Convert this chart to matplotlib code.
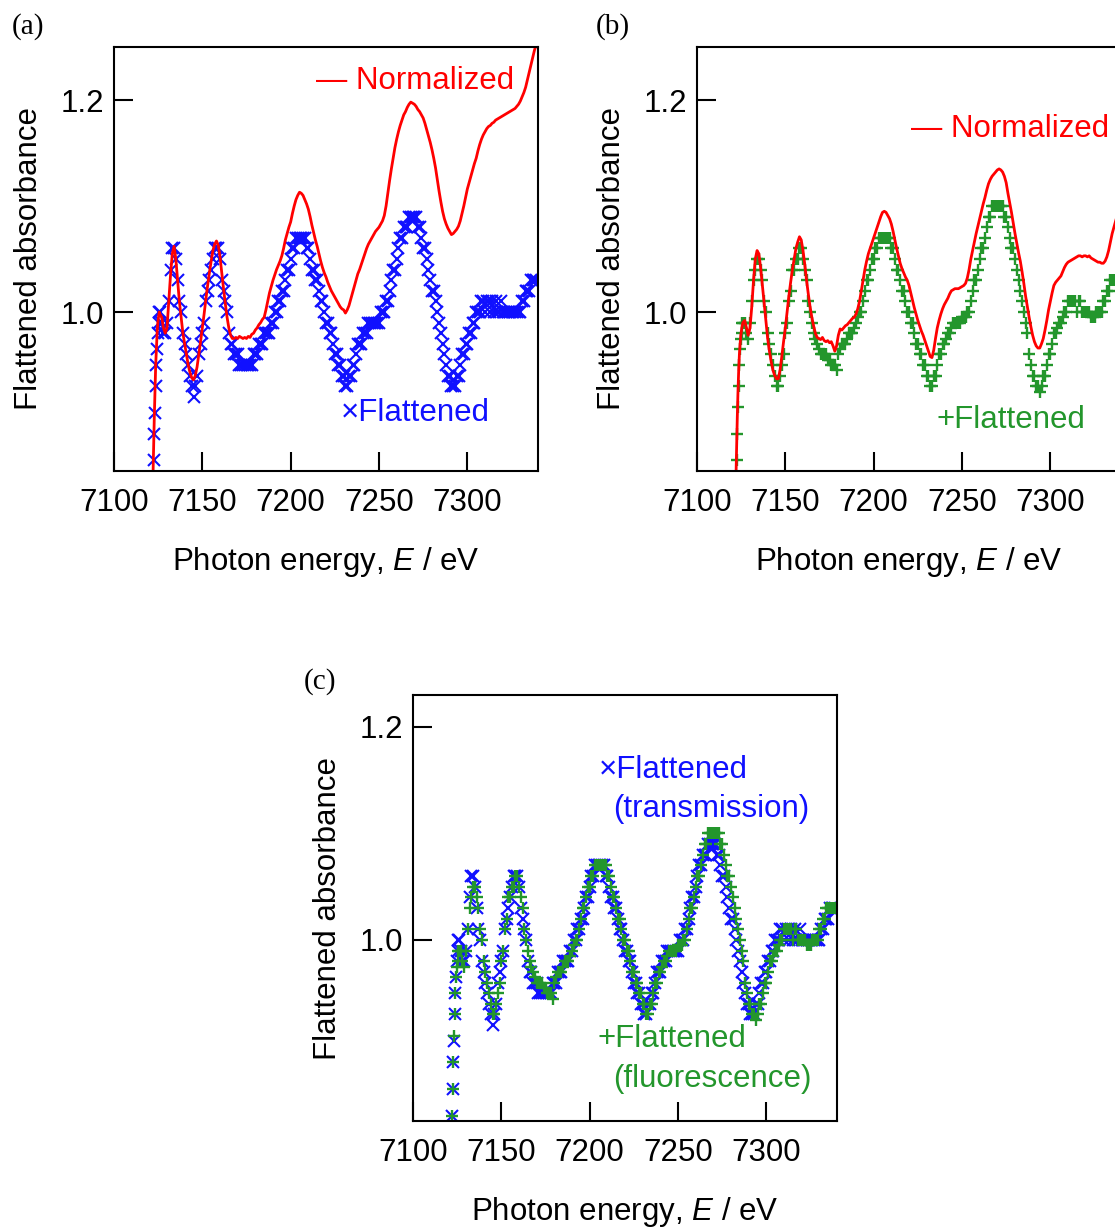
import matplotlib
matplotlib.use("Agg")
import matplotlib.pyplot as plt

plt.rcParams["font.family"] = ["Liberation Sans", "DejaVu Sans"]
plt.rcParams["mathtext.fontset"] = "custom"
plt.rcParams["mathtext.rm"] = "Liberation Sans"
plt.rcParams["mathtext.it"] = "Liberation Sans:italic"

# ---------- data ----------
energy = [7122.0, 7122.4, 7122.8, 7123.2, 7123.6, 7124.0, 7124.4, 7124.8, 7125.2, 7125.6, 7126.0,
          7127, 7128, 7129, 7130, 7131, 7132, 7133, 7134, 7135, 7136,
          7137, 7138, 7139, 7140, 7141, 7142, 7143, 7144, 7145, 7146,
          7147, 7148, 7149, 7150, 7151, 7152, 7153, 7154, 7155, 7156,
          7157, 7158, 7159, 7160, 7161, 7162, 7163, 7164, 7165, 7166,
          7167, 7168, 7169, 7170, 7171, 7172, 7173, 7174, 7175, 7176,
          7177, 7178, 7179, 7180, 7181, 7182, 7183, 7184, 7185, 7186,
          7187, 7188, 7189, 7190, 7191, 7192, 7193, 7194, 7195, 7196,
          7197, 7198, 7199, 7200, 7201, 7202, 7203, 7204, 7205, 7206,
          7207, 7208, 7209, 7210, 7211, 7212, 7213, 7214, 7215, 7216,
          7217, 7218, 7219, 7220, 7221, 7222, 7223, 7224, 7225, 7226,
          7227, 7228, 7229, 7230, 7231, 7232, 7233, 7234, 7235, 7236,
          7237, 7238, 7239, 7240, 7241, 7242, 7243, 7244, 7245, 7246,
          7247, 7248, 7249, 7250, 7251, 7252, 7253, 7254, 7255, 7256,
          7257, 7258, 7259, 7260, 7261, 7262, 7263, 7264, 7265, 7266,
          7267, 7268, 7269, 7270, 7271, 7272, 7273, 7274, 7275, 7276,
          7277, 7278, 7279, 7280, 7281, 7282, 7283, 7284, 7285, 7286,
          7287, 7288, 7289, 7290, 7291, 7292, 7293, 7294, 7295, 7296,
          7297, 7298, 7299, 7300, 7301, 7302, 7303, 7304, 7305, 7306,
          7307, 7308, 7309, 7310, 7311, 7312, 7313, 7314, 7315, 7316,
          7317, 7318, 7319, 7320, 7321, 7322, 7323, 7324, 7325, 7326,
          7327, 7328, 7329, 7330, 7331, 7332, 7333, 7334, 7335, 7336,
          7337, 7338, 7339]

# transmission, flattened (blue x)
trans_flat = [0.835, 0.86, 0.885, 0.905, 0.93, 0.95, 0.965, 0.98, 0.99, 1.00, 1.00,
              0.99, 0.98, 0.98, 0.99, 1.01, 1.04, 1.06, 1.06, 1.05, 1.03,
              1.01, 1.00, 0.98, 0.97, 0.96, 0.95, 0.94, 0.93, 0.92, 0.93,
              0.94, 0.96, 0.97, 0.98, 0.99, 1.01, 1.02, 1.03, 1.04, 1.05,
              1.06, 1.06, 1.06, 1.05, 1.03, 1.02, 1.01, 1.00, 0.98, 0.97,
              0.97, 0.96, 0.96, 0.96, 0.95, 0.95, 0.95, 0.95, 0.95, 0.95,
              0.95, 0.95, 0.96, 0.96, 0.96, 0.97, 0.97, 0.97, 0.98, 0.98,
              0.98, 0.98, 0.99, 0.99, 1.00, 1.00, 1.01, 1.01, 1.02, 1.02,
              1.03, 1.04, 1.04, 1.05, 1.06, 1.06, 1.07, 1.07, 1.07, 1.07,
              1.07, 1.07, 1.06, 1.06, 1.05, 1.04, 1.04, 1.03, 1.03, 1.02,
              1.01, 1.01, 1.00, 0.99, 0.99, 0.98, 0.98, 0.97, 0.96, 0.96,
              0.95, 0.95, 0.94, 0.94, 0.93, 0.93, 0.94, 0.94, 0.95, 0.95,
              0.96, 0.97, 0.97, 0.97, 0.98, 0.98, 0.98, 0.99, 0.99, 0.99,
              0.99, 0.99, 0.99, 0.99, 1.00, 1.00, 1.00, 1.01, 1.01, 1.02,
              1.03, 1.04, 1.04, 1.05, 1.06, 1.07, 1.07, 1.08, 1.08, 1.08,
              1.09, 1.09, 1.09, 1.09, 1.09, 1.08, 1.08, 1.07, 1.06, 1.06,
              1.05, 1.04, 1.03, 1.02, 1.02, 1.01, 1.00, 0.99, 0.98, 0.97,
              0.96, 0.95, 0.94, 0.94, 0.93, 0.93, 0.93, 0.94, 0.94, 0.95,
              0.96, 0.96, 0.97, 0.97, 0.98, 0.98, 0.99, 0.99, 1.00, 1.00,
              1.00, 1.01, 1.01, 1.00, 1.01, 1.01, 1.00, 1.01, 1.00, 1.01,
              1.00, 1.00, 1.01, 1.00, 1.00, 1.00, 1.00, 1.00, 1.00, 1.00,
              1.00, 1.00, 1.00, 1.00, 1.01, 1.01, 1.02, 1.02, 1.02, 1.03,
              1.03, 1.03, 1.03]

# fluorescence, flattened (green +)
fluo_flat = [0.835, 0.86, 0.885, 0.91, 0.93, 0.95, 0.965, 0.975, 0.98, 0.99, 0.99,
             0.99, 0.98, 0.975, 0.99, 1.01, 1.03, 1.04, 1.05, 1.05, 1.04,
             1.03, 1.01, 1.00, 0.98, 0.97, 0.96, 0.95, 0.94, 0.93, 0.93,
             0.94, 0.95, 0.96, 0.98, 0.99, 1.01, 1.02, 1.04, 1.04, 1.05,
             1.05, 1.06, 1.06, 1.05, 1.04, 1.03, 1.01, 1.00, 0.99, 0.98,
             0.975, 0.97, 0.965, 0.96, 0.96, 0.96, 0.96, 0.955, 0.955, 0.95,
             0.95, 0.95, 0.945, 0.96, 0.965, 0.97, 0.97, 0.97, 0.975, 0.98,
             0.98, 0.98, 0.985, 0.99, 0.995, 1.00, 1.00, 1.01, 1.02, 1.03,
             1.03, 1.04, 1.05, 1.05, 1.06, 1.06, 1.07, 1.07, 1.07, 1.07,
             1.07, 1.07, 1.07, 1.06, 1.06, 1.05, 1.04, 1.04, 1.03, 1.02,
             1.02, 1.01, 1.00, 1.00, 0.99, 0.99, 0.98, 0.97, 0.97, 0.96,
             0.96, 0.95, 0.95, 0.94, 0.94, 0.93, 0.93, 0.94, 0.94, 0.95,
             0.96, 0.96, 0.97, 0.97, 0.975, 0.98, 0.98, 0.985, 0.99, 0.99,
             0.99, 0.99, 0.99, 0.995, 0.995, 0.995, 1.00, 1.00, 1.01, 1.02,
             1.03, 1.03, 1.04, 1.05, 1.06, 1.06, 1.07, 1.08, 1.09, 1.09,
             1.10, 1.10, 1.10, 1.10, 1.10, 1.10, 1.10, 1.09, 1.09, 1.08,
             1.07, 1.06, 1.06, 1.05, 1.04, 1.03, 1.02, 1.01, 1.00, 0.99,
             0.98, 0.96, 0.95, 0.94, 0.94, 0.93, 0.93, 0.925, 0.93, 0.94,
             0.94, 0.95, 0.96, 0.96, 0.97, 0.98, 0.98, 0.985, 0.99, 0.99,
             0.995, 1.00, 1.00, 1.01, 1.01, 1.01, 1.01, 1.01, 1.00, 1.01,
             1.01, 1.00, 1.00, 1.00, 1.00, 1.00, 0.995, 0.995, 0.995, 1.00,
             1.00, 1.00, 1.00, 1.01, 1.01, 1.02, 1.02, 1.03, 1.03, 1.03,
             1.03, 1.03, 1.03]

# transmission, normalized (red line in a)
trans_norm = [0.84, 0.87, 0.90, 0.925, 0.95, 0.965, 0.98, 0.99, 0.995, 1.00, 0.998,
              0.995, 0.985, 0.98, 0.985, 1.01, 1.035, 1.055, 1.062, 1.05, 1.03,
              1.01, 0.995, 0.98, 0.97, 0.96, 0.95, 0.943, 0.938, 0.936, 0.94,
              0.948, 0.96, 0.972, 0.985, 0.998, 1.012, 1.025, 1.037, 1.048, 1.058,
              1.064, 1.067, 1.063, 1.052, 1.037, 1.022, 1.008, 0.995, 0.985, 0.978,
              0.975, 0.975, 0.976, 0.975, 0.977, 0.976, 0.975, 0.976, 0.975, 0.977,
              0.976, 0.979, 0.98, 0.983, 0.985, 0.988, 0.99, 0.993, 0.995, 1.002,
              1.01, 1.018, 1.024, 1.03, 1.035, 1.04, 1.044, 1.048, 1.053, 1.06,
              1.068, 1.074, 1.08, 1.085, 1.093, 1.1, 1.106, 1.11, 1.113, 1.112,
              1.11, 1.106, 1.102, 1.097, 1.09, 1.082, 1.075, 1.068, 1.062, 1.055,
              1.048, 1.042, 1.037, 1.033, 1.028, 1.024, 1.02, 1.017, 1.014, 1.011,
              1.008, 1.005, 1.003, 1.002, 0.999, 1.002, 1.006, 1.012, 1.018, 1.024,
              1.03, 1.036, 1.04, 1.045, 1.05, 1.055, 1.06, 1.064, 1.067, 1.07,
              1.073, 1.076, 1.078, 1.08, 1.083, 1.086, 1.091, 1.1, 1.112, 1.124,
              1.135, 1.145, 1.155, 1.163, 1.17, 1.176, 1.181, 1.186, 1.189, 1.193,
              1.196, 1.198, 1.197, 1.196, 1.194, 1.191, 1.189, 1.186, 1.183, 1.178,
              1.172, 1.166, 1.16, 1.153, 1.145, 1.136, 1.125, 1.114, 1.104, 1.095,
              1.088, 1.083, 1.079, 1.076, 1.073, 1.074, 1.076, 1.078, 1.081, 1.086,
              1.093, 1.1, 1.108, 1.116, 1.122, 1.128, 1.134, 1.14, 1.145, 1.152,
              1.158, 1.163, 1.167, 1.17, 1.173, 1.175, 1.176, 1.178, 1.179, 1.181,
              1.182, 1.183, 1.184, 1.185, 1.186, 1.187, 1.188, 1.189, 1.19, 1.191,
              1.192, 1.194, 1.196, 1.199, 1.203, 1.207, 1.212, 1.219, 1.226, 1.233,
              1.24, 1.247, 1.252]

# fluorescence, normalized (red line in b)
fluo_norm = [0.84, 0.87, 0.90, 0.925, 0.945, 0.96, 0.97, 0.978, 0.983, 0.987, 0.99,
             0.992, 0.985, 0.978, 0.985, 1.005, 1.03, 1.05, 1.058, 1.055, 1.042,
             1.025, 1.008, 0.99, 0.975, 0.963, 0.953, 0.945, 0.94, 0.937, 0.937,
             0.945, 0.958, 0.972, 0.985, 1.0, 1.015, 1.028, 1.04, 1.05, 1.06,
             1.066, 1.071, 1.068, 1.058, 1.045, 1.03, 1.017, 1.005, 0.995, 0.987,
             0.98, 0.976, 0.975, 0.974, 0.976, 0.973, 0.972, 0.973, 0.971, 0.972,
             0.968, 0.963, 0.968, 0.978, 0.984, 0.983, 0.985, 0.987, 0.988, 0.99,
             0.992, 0.994, 0.995, 0.998, 1.003, 1.01, 1.02, 1.03, 1.04, 1.048,
             1.055, 1.06, 1.065, 1.07, 1.075, 1.08, 1.085, 1.09, 1.094, 1.095,
             1.094, 1.091, 1.088, 1.083, 1.076, 1.068, 1.06, 1.053, 1.046, 1.041,
             1.037, 1.033, 1.03, 1.025, 1.018, 1.011, 1.004, 0.998, 0.992, 0.987,
             0.982, 0.978, 0.973, 0.968, 0.963, 0.958, 0.957, 0.964, 0.975, 0.985,
             0.992, 0.998, 1.003, 1.007, 1.01, 1.013, 1.017, 1.02, 1.021, 1.022,
             1.022, 1.022, 1.023, 1.024, 1.025, 1.027, 1.032, 1.04, 1.05, 1.058,
             1.066, 1.074, 1.081, 1.088, 1.095, 1.102, 1.108, 1.115, 1.121, 1.125,
             1.128, 1.13, 1.132, 1.134, 1.135, 1.134, 1.132, 1.128, 1.122, 1.112,
             1.103, 1.094, 1.084, 1.074, 1.065, 1.056, 1.048, 1.038, 1.027, 1.015,
             1.005, 0.995, 0.986, 0.978, 0.972, 0.968, 0.966, 0.966, 0.97, 0.975,
             0.983, 0.992, 1.002, 1.01, 1.018, 1.025, 1.028, 1.03, 1.032, 1.034,
             1.038, 1.042, 1.045, 1.047, 1.048, 1.049, 1.05, 1.051, 1.052, 1.053,
             1.053, 1.052, 1.053, 1.053, 1.052, 1.053, 1.051, 1.05, 1.049, 1.048,
             1.047, 1.047, 1.046, 1.046, 1.048, 1.052, 1.058, 1.066, 1.074, 1.08,
             1.086, 1.092, 1.098]

x_ticks = [7100, 7150, 7200, 7250, 7300]
y_ticks = [1.0, 1.2]

RED, BLUE, GREEN = "#ff0000", "#1010ff", "#23962c"
FS = 22.5


def style(ax, ylim):
    ax.set_xlim(7100, 7340)
    ax.set_ylim(*ylim)
    ax.set_xticks(x_ticks)
    ax.set_yticks(y_ticks)
    ax.set_yticklabels([f"{v:.1f}" for v in y_ticks])
    ax.tick_params(direction="in", length=13.5, width=1.5, labelsize=FS, top=False, right=False)
    ax.tick_params(axis="x", pad=12)
    ax.tick_params(axis="y", pad=7)
    for s in ax.spines.values():
        s.set_linewidth(1.5)
    ax.set_xlabel("Photon energy, $\\mathit{E}$ / eV", fontsize=FS, labelpad=20)
    ax.set_ylabel("Flattened absorbance", fontsize=FS, labelpad=12)


fig = plt.figure(figsize=(11.15, 12.27), dpi=100)
W, H = 424 / 1115, 424 / 1227
ax_a = fig.add_axes([114 / 1115, 756 / 1227, W, H])
ax_b = fig.add_axes([697 / 1115, 756 / 1227, W, H])
ax_c = fig.add_axes([413 / 1115, 106 / 1227, W, 426 / 1227])

# (a) transmission
ax_a.plot(energy, trans_flat, ls="none", marker="x", ms=8, mew=1.5, color=BLUE)
ax_a.plot(energy, trans_norm, color=RED, lw=2.0)
style(ax_a, (0.85, 1.25))
ax_a.text(0.476, 0.901, "— Normalized", color=RED, fontsize=FS, transform=ax_a.transAxes)
ax_a.text(0.535, 0.118, "×Flattened", color=BLUE, fontsize=FS, transform=ax_a.transAxes)

# (b) fluorescence
ax_b.plot(energy, fluo_flat, ls="none", marker="+", ms=9, mew=1.7, color=GREEN)
ax_b.plot(energy, fluo_norm, color=RED, lw=2.0)
style(ax_b, (0.85, 1.25))
ax_b.text(0.505, 0.788, "— Normalized", color=RED, fontsize=FS, transform=ax_b.transAxes)
ax_b.text(0.566, 0.101, "+Flattened", color=GREEN, fontsize=FS, transform=ax_b.transAxes)

# (c) both flattened
ax_c.plot(energy, trans_flat, ls="none", marker="x", ms=8, mew=1.5, color=BLUE)
ax_c.plot(energy, fluo_flat, ls="none", marker="+", ms=9, mew=1.7, color=GREEN)
style(ax_c, (0.83, 1.23))
ax_c.text(0.439, 0.805, "×Flattened", color=BLUE, fontsize=FS, transform=ax_c.transAxes)
ax_c.text(0.472, 0.714, "(transmission)", color=BLUE, fontsize=FS, transform=ax_c.transAxes)
ax_c.text(0.434, 0.174, "+Flattened", color=GREEN, fontsize=FS, transform=ax_c.transAxes)
ax_c.text(0.472, 0.080, "(fluorescence)", color=GREEN, fontsize=FS, transform=ax_c.transAxes)

# panel labels
for x, y, lab in [(28, 27, "(a)"), (613, 27, "(b)"), (320, 682, "(c)")]:
    fig.text(x / 1115, 1 - y / 1227, lab, family="Liberation Serif", fontsize=21,
             ha="center", va="center")

fig.savefig("out.png", dpi=100)
